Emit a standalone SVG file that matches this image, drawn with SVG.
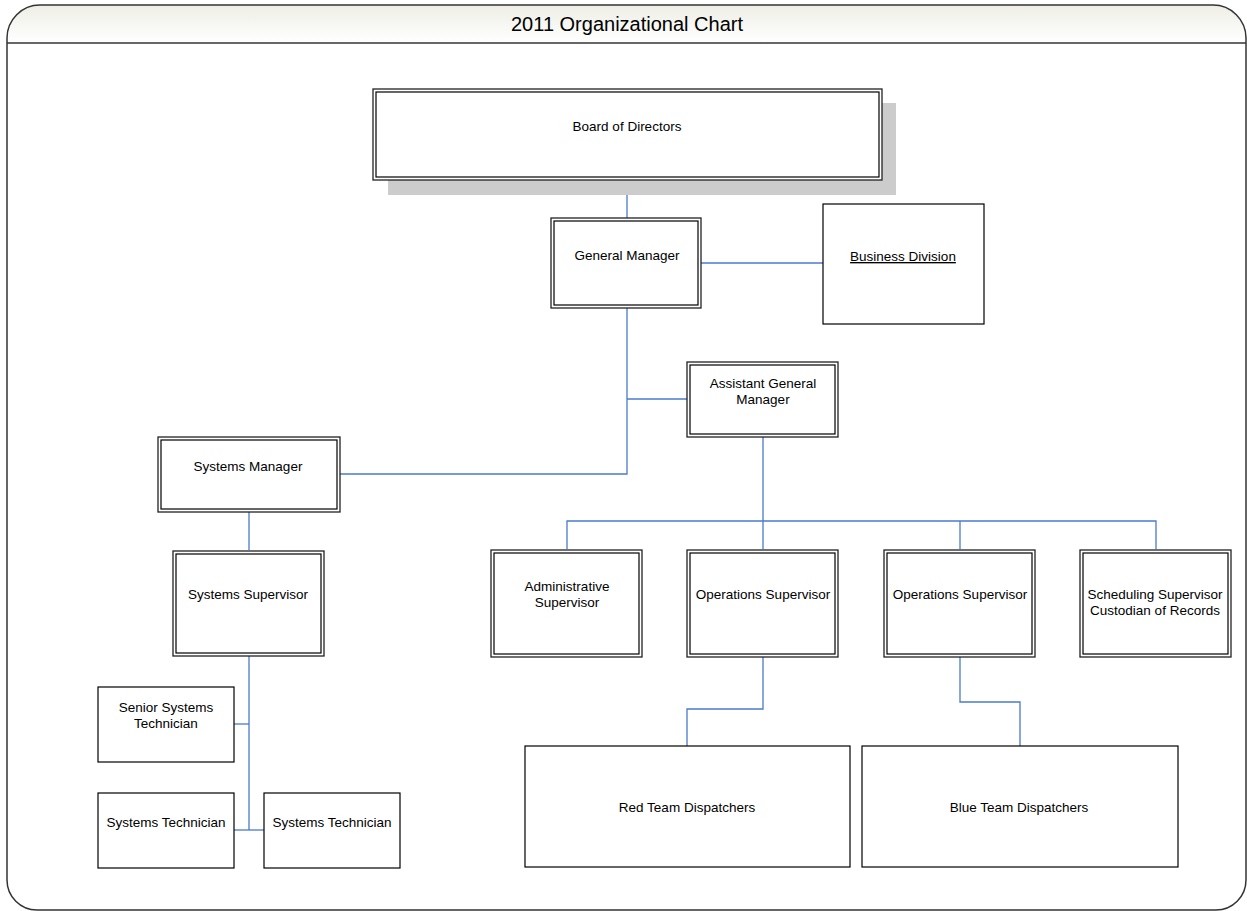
<svg xmlns="http://www.w3.org/2000/svg" width="1247" height="911" viewBox="0 0 1247 911">
<defs>
<linearGradient id="hdr" x1="0" y1="0" x2="0" y2="1">
<stop offset="0" stop-color="#eeeee6"/>
<stop offset="1" stop-color="#ffffff"/>
</linearGradient>
</defs>
<style>
.o{fill:#fff;stroke:#222;stroke-width:1.3}
.i{fill:none;stroke:#000;stroke-width:1.2}
.s{fill:#fff;stroke:#000;stroke-width:1.2}
.t{font-family:"Liberation Sans",Arial,sans-serif;font-size:13.5px;fill:#000;text-anchor:middle}
.c{fill:none;stroke:#4a7bcc;stroke-width:1.3}
</style>
<rect width="1247" height="911" fill="#fff"/>
<g id="frame">
<path d="M7,43 L7,38 A33,33 0 0 1 40,5 L1213,5 A33,33 0 0 1 1246,38 L1246,43 Z" fill="url(#hdr)"/>
<path d="M7,43 L7,38 A33,33 0 0 1 40,5 L1213,5 A33,33 0 0 1 1246,38 L1246,880 A30,30 0 0 1 1216,910 L37,910 A30,30 0 0 1 7,880 Z" fill="none" stroke="#333" stroke-width="1.5"/>
<line x1="7" y1="43" x2="1246" y2="43" stroke="#333" stroke-width="1.5"/>
<text x="627" y="31" text-anchor="middle" font-family="Liberation Sans, Arial, sans-serif" font-size="20">2011 Organizational Chart</text>
</g>
<g id="connectors">
<path class="c" d="M627,180 V218"/>
<path class="c" d="M701,263 H823"/>
<path class="c" d="M627,308 V474 H340"/>
<path class="c" d="M627,399 H687"/>
<path class="c" d="M763,437 V521"/>
<path class="c" d="M567,549 V521 H1156 V549"/>
<path class="c" d="M763,521 V549"/>
<path class="c" d="M960,521 V549"/>
<path class="c" d="M249,512 V550"/>
<path class="c" d="M249,656 V830"/>
<path class="c" d="M234,724 H249"/>
<path class="c" d="M234,830 H264"/>
<path class="c" d="M763,657 V709 H687 V746"/>
<path class="c" d="M960,657 V702 H1020 V746"/>
</g>
<g id="board">
<rect x="388" y="103" width="508" height="92" fill="#cccccc"/>
<rect class="o" x="373" y="89" width="509" height="91"/>
<rect class="i" x="376" y="92" width="503" height="85"/>
<text class="t" x="627" y="131">Board of Directors</text>
</g>
<g id="gm">
<rect class="o" x="551" y="218" width="150" height="90"/>
<rect class="i" x="554" y="221" width="144" height="84"/>
<text class="t" x="627" y="260">General Manager</text>
</g>
<g id="bd">
<rect class="s" x="823" y="204" width="161" height="120"/>
<text class="t" x="903" y="261" text-decoration="underline">Business Division</text>
</g>
<g id="agm">
<rect class="o" x="687" y="362" width="151" height="75"/>
<rect class="i" x="690" y="365" width="145" height="69"/>
<text class="t" x="763" y="388">Assistant General</text>
<text class="t" x="763" y="404">Manager</text>
</g>
<g id="sm">
<rect class="o" x="158" y="437" width="182" height="75"/>
<rect class="i" x="161" y="440" width="176" height="69"/>
<text class="t" x="248" y="471">Systems Manager</text>
</g>
<g id="ss">
<rect class="o" x="173" y="551" width="151" height="105"/>
<rect class="i" x="176" y="554" width="145" height="99"/>
<text class="t" x="248" y="599">Systems Supervisor</text>
</g>
<g id="sst">
<rect class="s" x="98" y="687" width="136" height="75"/>
<text class="t" x="166" y="712">Senior Systems</text>
<text class="t" x="166" y="728">Technician</text>
</g>
<g id="st1">
<rect class="s" x="98" y="793" width="136" height="75"/>
<text class="t" x="166" y="827">Systems Technician</text>
</g>
<g id="st2">
<rect class="s" x="264" y="793" width="136" height="75"/>
<text class="t" x="332" y="827">Systems Technician</text>
</g>
<g id="admin">
<rect class="o" x="491" y="550" width="151" height="107"/>
<rect class="i" x="494" y="553" width="145" height="101"/>
<text class="t" x="567" y="591">Administrative</text>
<text class="t" x="567" y="607">Supervisor</text>
</g>
<g id="ops1">
<rect class="o" x="687" y="550" width="151" height="107"/>
<rect class="i" x="690" y="553" width="145" height="101"/>
<text class="t" x="763" y="599">Operations Supervisor</text>
</g>
<g id="ops2">
<rect class="o" x="884" y="550" width="151" height="107"/>
<rect class="i" x="887" y="553" width="145" height="101"/>
<text class="t" x="960" y="599">Operations Supervisor</text>
</g>
<g id="sched">
<rect class="o" x="1080" y="550" width="151" height="107"/>
<rect class="i" x="1083" y="553" width="145" height="101"/>
<text class="t" x="1155" y="599">Scheduling Supervisor</text>
<text class="t" x="1155" y="615">Custodian of Records</text>
</g>
<g id="red">
<rect class="s" x="525" y="746" width="325" height="121"/>
<text class="t" x="687" y="812">Red Team Dispatchers</text>
</g>
<g id="blue">
<rect class="s" x="862" y="746" width="316" height="121"/>
<text class="t" x="1019" y="812">Blue Team Dispatchers</text>
</g>
</svg>
